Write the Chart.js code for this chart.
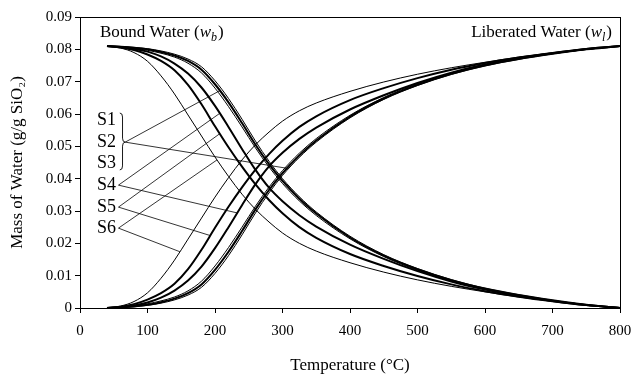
<!DOCTYPE html>
<html>
<head>
<meta charset="utf-8">
<script src="https://cdn.jsdelivr.net/npm/chart.js@4.4.1/dist/chart.umd.min.js"></script>
<style>
    html, body { margin: 0; padding: 0; background: #fff; }
    #wrap { width: 632px; height: 379px; }
</style>
</head>
<body>
<div id="wrap"><canvas id="water"></canvas></div>
<script>
// temperature grid (degC)
const temps = [40, 60, 80, 100, 120, 140, 160, 180, 200, 220, 240, 260, 280, 300, 325, 350, 400, 450, 500, 550, 600, 650, 700, 750, 800];

// bound water w_b (g/g SiO2)
const boundS1 = [0.0810, 0.0808, 0.0805, 0.0800, 0.0792, 0.0781, 0.0764, 0.0737, 0.0692, 0.0636, 0.0572, 0.0505, 0.0445, 0.0393, 0.0338, 0.0292, 0.0218, 0.0162, 0.0120, 0.0086, 0.0060, 0.0040, 0.0024, 0.0010, 0.0000];
const boundS2 = [0.0810, 0.0807, 0.0803, 0.0797, 0.0788, 0.0776, 0.0757, 0.0727, 0.0680, 0.0623, 0.0560, 0.0495, 0.0436, 0.0385, 0.0331, 0.0286, 0.0214, 0.0159, 0.0117, 0.0084, 0.0058, 0.0039, 0.0023, 0.0010, 0.0000];
const boundS3 = [0.0810, 0.0809, 0.0806, 0.0802, 0.0795, 0.0785, 0.0770, 0.0746, 0.0703, 0.0648, 0.0584, 0.0516, 0.0454, 0.0400, 0.0344, 0.0297, 0.0222, 0.0165, 0.0122, 0.0088, 0.0061, 0.0041, 0.0024, 0.0010, 0.0000];
const boundS4 = [0.0810, 0.0807, 0.0802, 0.0793, 0.0778, 0.0756, 0.0725, 0.0682, 0.0625, 0.0560, 0.0492, 0.0427, 0.0372, 0.0330, 0.0287, 0.0252, 0.0196, 0.0152, 0.0114, 0.0082, 0.0057, 0.0037, 0.0022, 0.0009, 0.0000];
const boundS5 = [0.0810, 0.0806, 0.0798, 0.0784, 0.0764, 0.0735, 0.0690, 0.0630, 0.0562, 0.0497, 0.0437, 0.0382, 0.0334, 0.0293, 0.0250, 0.0217, 0.0167, 0.0130, 0.0099, 0.0073, 0.0052, 0.0035, 0.0021, 0.0009, 0.0000];
const boundS6 = [0.0810, 0.0804, 0.0790, 0.0763, 0.0718, 0.0662, 0.0597, 0.0532, 0.0467, 0.0407, 0.0352, 0.0305, 0.0266, 0.0232, 0.0200, 0.0176, 0.0140, 0.0111, 0.0087, 0.0067, 0.0050, 0.0034, 0.0021, 0.0009, 0.0000];

// liberated water w_l (g/g SiO2)
const libS1 = [0.0000, 0.0002, 0.0005, 0.0010, 0.0018, 0.0029, 0.0046, 0.0073, 0.0118, 0.0174, 0.0238, 0.0305, 0.0365, 0.0417, 0.0472, 0.0518, 0.0592, 0.0648, 0.0690, 0.0724, 0.0750, 0.0770, 0.0786, 0.0800, 0.0810];
const libS2 = [0.0000, 0.0003, 0.0007, 0.0013, 0.0022, 0.0034, 0.0053, 0.0083, 0.0130, 0.0187, 0.0250, 0.0315, 0.0374, 0.0425, 0.0479, 0.0524, 0.0596, 0.0651, 0.0693, 0.0726, 0.0752, 0.0771, 0.0787, 0.0800, 0.0810];
const libS3 = [0.0000, 0.0001, 0.0004, 0.0008, 0.0015, 0.0025, 0.0040, 0.0064, 0.0107, 0.0162, 0.0226, 0.0294, 0.0356, 0.0410, 0.0466, 0.0513, 0.0588, 0.0645, 0.0688, 0.0722, 0.0749, 0.0769, 0.0786, 0.0800, 0.0810];
const libS4 = [0.0000, 0.0003, 0.0008, 0.0017, 0.0032, 0.0054, 0.0085, 0.0128, 0.0185, 0.0250, 0.0318, 0.0383, 0.0438, 0.0480, 0.0523, 0.0558, 0.0614, 0.0658, 0.0696, 0.0728, 0.0753, 0.0773, 0.0788, 0.0801, 0.0810];
const libS5 = [0.0000, 0.0004, 0.0012, 0.0026, 0.0046, 0.0075, 0.0120, 0.0180, 0.0248, 0.0313, 0.0373, 0.0428, 0.0476, 0.0517, 0.0560, 0.0593, 0.0643, 0.0680, 0.0711, 0.0737, 0.0758, 0.0775, 0.0789, 0.0801, 0.0810];
const libS6 = [0.0000, 0.0006, 0.0020, 0.0047, 0.0092, 0.0148, 0.0213, 0.0278, 0.0343, 0.0403, 0.0458, 0.0505, 0.0544, 0.0578, 0.0610, 0.0634, 0.0670, 0.0699, 0.0723, 0.0743, 0.0760, 0.0776, 0.0789, 0.0801, 0.0810];

// sample labels and where they sit (data units)
const sampleLabels = ['S1', 'S2', 'S3', 'S4', 'S5', 'S6'];
const labelT = 25;
const labelW = [0.0581, 0.0513, 0.0449, 0.0380, 0.0312, 0.0247];

// leader lines: [fromT, fromW, toT, toW]
const leaders = [
    [67, 0.0513, 207, 0.0672],
    [67, 0.0513, 307, 0.0432],
    [57, 0.0380, 207, 0.0602],
    [57, 0.0380, 233, 0.0294],
    [57, 0.0312, 207, 0.0539],
    [57, 0.0312, 193, 0.0224],
    [57, 0.0247, 203, 0.0458],
    [57, 0.0247, 148, 0.0174]
];
// brace for S1-S3: [leftT, rightT, topW, tipW, bottomW]
const brace = [59, 67, 0.0603, 0.0513, 0.0427];

const serif = '"Liberation Serif", "Times New Roman", serif';

function pts(ys) {
    return temps.map((t, i) => ({x: t, y: ys[i]}));
}

function curve(label, ys, width) {
    return {
        label: label,
        data: pts(ys),
        borderColor: '#000',
        borderWidth: width,
        pointRadius: 0,
        cubicInterpolationMode: 'monotone',
        fill: false
    };
}

const datasets = [
    curve('S1 wb', boundS1, 2), curve('S2 wb', boundS2, 1), curve('S3 wb', boundS3, 1),
    curve('S4 wb', boundS4, 2), curve('S5 wb', boundS5, 2), curve('S6 wb', boundS6, 1),
    curve('S1 wl', libS1, 2), curve('S2 wl', libS2, 1), curve('S3 wl', libS3, 1),
    curve('S4 wl', libS4, 2), curve('S5 wl', libS5, 2), curve('S6 wl', libS6, 1)
];

leaders.forEach((l, i) => {
    datasets.push({
        label: 'leader ' + i,
        data: [{x: l[0], y: l[1]}, {x: l[2], y: l[3]}],
        borderColor: '#000',
        borderWidth: 0.8,
        pointRadius: 0,
        tension: 0,
        fill: false
    });
});

// text with italic symbol and subscript, e.g. "Bound Water (w_b)"
function drawSymbolText(ctx, x, y, pre, sym, sub, align) {
    ctx.font = '17px ' + serif;
    const wPre = ctx.measureText(pre).width;
    ctx.font = 'italic 17px ' + serif;
    const wSym = ctx.measureText(sym).width;
    ctx.font = 'italic 12px ' + serif;
    const wSub = ctx.measureText(sub).width;
    ctx.font = '17px ' + serif;
    const wClose = ctx.measureText(')').width;
    let cx = align === 'right' ? x - (wPre + wSym + wSub + 1 + wClose) : x;
    ctx.textAlign = 'left';
    ctx.textBaseline = 'alphabetic';
    ctx.font = '17px ' + serif;
    ctx.fillText(pre, cx, y); cx += wPre;
    ctx.font = 'italic 17px ' + serif;
    ctx.fillText(sym, cx, y); cx += wSym;
    ctx.font = 'italic 12px ' + serif;
    ctx.fillText(sub, cx, y + 4); cx += wSub + 1;
    ctx.font = '17px ' + serif;
    ctx.fillText(')', cx, y);
}

const decorations = {
    id: 'decorations',
    afterDraw(chart) {
        const ctx = chart.ctx;
        const xs = chart.scales.x, ys = chart.scales.y;
        const a = chart.chartArea;
        ctx.save();
        ctx.strokeStyle = '#000';
        ctx.lineWidth = 1;
        ctx.strokeRect(Math.round(a.left) + 0.5, Math.round(a.top) + 0.5, Math.round(a.right - a.left), Math.round(a.bottom - a.top));

        ctx.fillStyle = '#000';
        drawSymbolText(ctx, a.left + 20, a.top + 20, 'Bound Water (', 'w', 'b', 'left');
        drawSymbolText(ctx, a.right - 8, a.top + 20, 'Liberated Water (', 'w', 'l', 'right');

        ctx.font = '18px ' + serif;
        ctx.textAlign = 'left';
        ctx.textBaseline = 'middle';
        sampleLabels.forEach((s, i) => {
            ctx.fillText(s, xs.getPixelForValue(labelT), ys.getPixelForValue(labelW[i]));
        });

        // curly brace pointing right
        const x0 = xs.getPixelForValue(brace[0]);
        const x1 = xs.getPixelForValue(brace[1]);
        const yt = ys.getPixelForValue(brace[2]);
        const ym = ys.getPixelForValue(brace[3]);
        const yb = ys.getPixelForValue(brace[4]);
        const xm = (x0 + x1) / 2;
        ctx.lineWidth = 0.9;
        ctx.beginPath();
        ctx.moveTo(x0, yt);
        ctx.quadraticCurveTo(xm, yt, xm, yt + 4);
        ctx.lineTo(xm, ym - 4);
        ctx.quadraticCurveTo(xm, ym, x1, ym);
        ctx.quadraticCurveTo(xm, ym, xm, ym + 4);
        ctx.lineTo(xm, yb - 4);
        ctx.quadraticCurveTo(xm, yb, x0, yb);
        ctx.stroke();
        ctx.restore();
    }
};

new Chart(document.getElementById('water'), {
    type: 'line',
    data: { datasets: datasets },
    plugins: [decorations],
    options: {
        responsive: true,
        maintainAspectRatio: false,
        animation: false,
        layout: { padding: { top: 17, right: 0, left: 7, bottom: 0 } },
        plugins: {
            legend: { display: false },
            tooltip: { enabled: false }
        },
        scales: {
            x: {
                type: 'linear',
                min: 0,
                max: 800,
                afterFit: function(scale) {
                    scale.height = 71;
                    scale.paddingRight = 12;
                    scale.paddingLeft = 0;
                },
                border: { display: true, color: '#000', width: 1 },
                grid: { display: true, drawOnChartArea: false, drawTicks: true, tickLength: 5, color: '#000' },
                ticks: {
                    stepSize: 100,
                    color: '#000',
                    padding: 9,
                    maxRotation: 0,
                    font: { family: serif, size: 15 }
                },
                title: {
                    display: true,
                    text: 'Temperature (°C)',
                    color: '#000',
                    font: { family: serif, size: 17 },
                    padding: { top: 0, bottom: 3 }
                }
            },
            y: {
                min: 0,
                max: 0.09,
                afterFit: function(scale) { scale.width = 73; },
                border: { display: true, color: '#000', width: 1 },
                grid: { display: true, drawOnChartArea: false, drawTicks: true, tickLength: 5, color: '#000' },
                ticks: {
                    stepSize: 0.01,
                    color: '#000',
                    padding: 3,
                    font: { family: serif, size: 15 },
                    callback: function(v) { return v === 0 ? '0' : v.toFixed(2); }
                },
                title: {
                    display: true,
                    text: 'Mass of Water (g/g SiO₂)',
                    color: '#000',
                    font: { family: serif, size: 17 },
                    padding: { top: 0, bottom: 4 }
                }
            }
        }
    }
});
</script>
</body>
</html>
